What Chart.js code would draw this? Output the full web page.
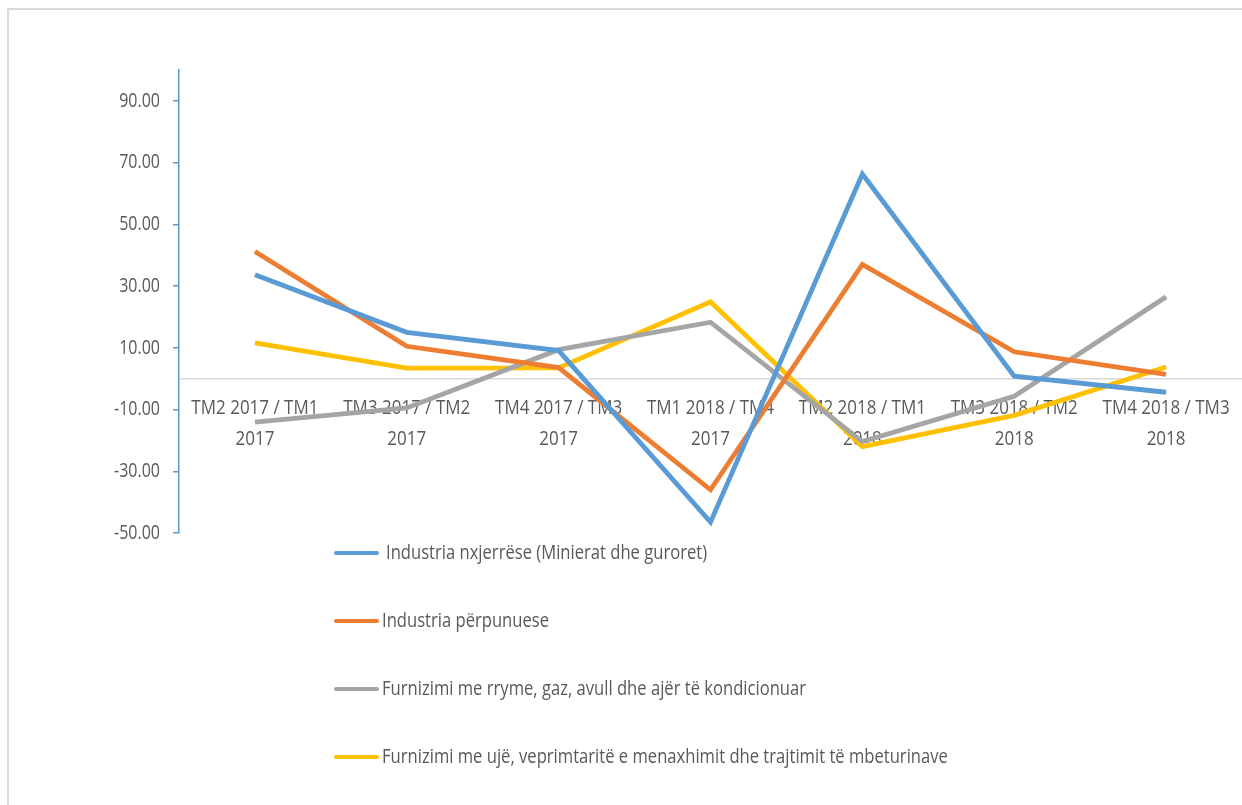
<!DOCTYPE html>
<html><head><meta charset="utf-8">
<script src="https://cdn.jsdelivr.net/npm/chart.js@4/dist/chart.umd.min.js"></script>
<style>
html,body{margin:0;padding:0;background:#fff;overflow:hidden;width:1242px;height:805px;}
#frame{position:absolute;left:7px;top:8px;width:1300px;height:900px;box-sizing:border-box;border-top:2px solid #d9d9d9;border-left:2px solid #d9d9d9;}
#c{position:absolute;left:0;top:0;}
</style></head><body>
<div id="frame"></div>
<canvas id="c" width="1242" height="805"></canvas>
<script>
const categories = [
  "TM2 2017 / TM1 2017",
  "TM3 2017 / TM2 2017",
  "TM4 2017 / TM3 2017",
  "TM1 2018 / TM4 2017",
  "TM2 2018 / TM1 2018",
  "TM3 2018 / TM2 2018",
  "TM4 2018 / TM3 2018"
];
const seriesNames = [
  "Industria nxjerrëse (Minierat dhe guroret)",
  "Industria përpunuese",
  "Furnizimi me rryme, gaz, avull dhe ajër të kondicionuar",
  "Furnizimi me ujë, veprimtaritë e menaxhimit dhe trajtimit të mbeturinave"
];
const nxjerrese = [33.7, 15.0, 9.1, -46.5, 66.3, 0.8, -4.4];
const perpunuese = [41.2, 10.5, 3.6, -36.0, 37.0, 8.7, 1.4];
const rryme = [-14.1, -9.5, 9.4, 18.3, -20.4, -5.7, 26.5];
const uje = [11.6, 3.4, 3.5, 24.9, -22.0, -11.9, 3.8];
const yTicks = [-50, -30, -10, 10, 30, 50, 70, 90];
const colors = ["#5b9bd5", "#ed7d31", "#a5a5a5", "#ffc000"];

const FONT = "'Open Sans', 'Noto Sans', sans-serif";
const TXT = "#595959";

function sText(ctx, text, x, y, align, sx) {
  ctx.save();
  ctx.translate(x, y);
  ctx.scale(sx, 1);
  ctx.textAlign = align;
  ctx.textBaseline = 'middle';
  ctx.fillText(text, 0, 0);
  ctx.restore();
}

const customPlugin = {
  id: 'custom',
  beforeDatasetsDraw(chart) {
    const ctx = chart.ctx, ca = chart.chartArea;
    const ys = chart.scales.y;
    const y0 = ys.getPixelForValue(0);
    ctx.save();
    ctx.strokeStyle = '#d9d9d9';
    ctx.lineWidth = 1.5;
    ctx.beginPath();
    ctx.moveTo(ca.left, y0);
    ctx.lineTo(ca.right, y0);
    ctx.stroke();
    ctx.fillStyle = TXT;
    // y tick labels
    ctx.font = "20px " + FONT;
    yTicks.forEach(v => {
      sText(ctx, v.toFixed(2), ca.left - 19, ys.getPixelForValue(v), 'right', 0.80);
    });
    // category labels
    categories.forEach((c, i) => {
      const x = chart.scales.x.getPixelForValue(i);
      const k = c.lastIndexOf(' ');
      sText(ctx, c.slice(0, k), x, y0 + 30, 'center', 0.85);
      sText(ctx, c.slice(k + 1), x, y0 + 61, 'center', 0.85);
    });
    ctx.restore();
  },
  afterDraw(chart) {
    const ctx = chart.ctx;
    ctx.save();
    ctx.font = "20px " + FONT;
    chart.data.datasets.forEach((ds, i) => {
      const y = 553 + i * 68;
      ctx.strokeStyle = ds.borderColor;
      ctx.lineWidth = 4;
      ctx.lineCap = 'round';
      ctx.beginPath();
      ctx.moveTo(336, y);
      ctx.lineTo(377, y);
      ctx.stroke();
      ctx.fillStyle = TXT;
      sText(ctx, ds.label, i === 0 ? 386 : 382, y, 'left', 0.83);
    });
    ctx.restore();
  }
};

const seriesData = [nxjerrese, perpunuese, rryme, uje];

new Chart(document.getElementById('c'), {
  type: 'line',
  data: {
    labels: categories,
    datasets: seriesData.map((d, i) => ({
      label: seriesNames[i],
      data: d,
      borderColor: colors[i],
      backgroundColor: colors[i],
      borderWidth: 4.8,
      pointRadius: 0,
      tension: 0,
      fill: false
    }))
  },
  options: {
    responsive: false,
    animation: false,
    layout: { padding: { left: 0, right: 0, top: 70, bottom: 272 } },
    plugins: { legend: { display: false }, tooltip: { enabled: false } },
    scales: {
      x: { type: 'category', offset: true, display: false },
      y: {
        min: -50, max: 100,
        afterBuildTicks: s => { s.ticks = yTicks.map(v => ({ value: v })); },
        afterFit: s => { s.width = 179; },
        border: { color: '#5b9bd5', width: 1.5 },
        grid: { drawOnChartArea: false, drawTicks: true, tickLength: 6, color: '#5b9bd5', lineWidth: 1.5 },
        ticks: { display: false }
      }
    }
  },
  plugins: [customPlugin]
});
</script>
</body></html>
